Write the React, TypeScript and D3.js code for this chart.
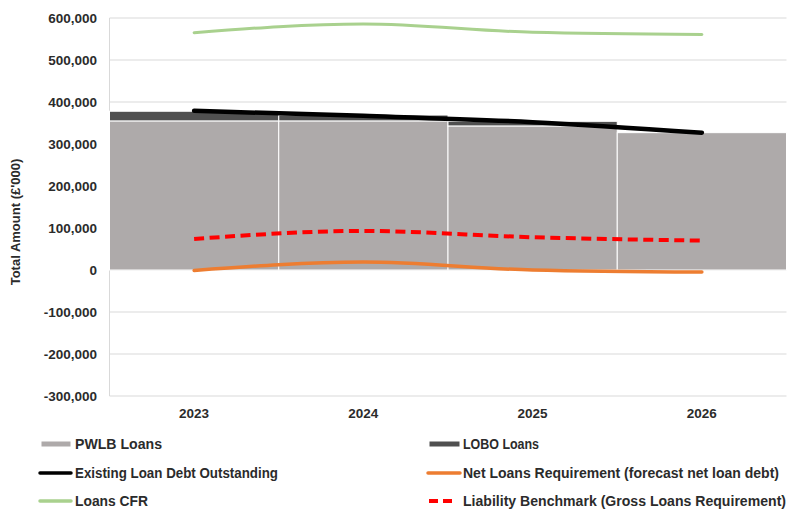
import React from 'react';
import * as d3 from 'd3';

const years = ['2023', '2024', '2025', '2026'];
const pwlbLoans = [355000, 355000, 343000, 327000];
const loboLoans = [23000, 14000, 11000, 0];
const existingDebt = [379000, 367000, 352000, 327000];
const netLoansReq = [-1000, 19000, 0, -5000];
const loansCFR = [565000, 586000, 566000, 561000];
const liabilityBenchmark = [74000, 93000, 78000, 70000];
const yTicks = [-300000, -200000, -100000, 0, 100000, 200000, 300000, 400000, 500000, 600000];

const W = 787;
const H = 512;
const PL = 109.5;
const PR = 786.5;
const PT = 18;
const PB = 396;

const fmt = d3.formatLocale({ decimal: '.', thousands: ',', grouping: [3], currency: ['£', ''], minus: '-' }).format(',');

export default function App() {
  const x = d3.scaleBand<string>().domain(years).range([PL, PR]).padding(0);
  const y = d3.scaleLinear().domain([-300000, 600000]).range([PB, PT]);
  const cx = (i: number) => (x(years[i]) as number) + x.bandwidth() / 2;

  const stackData = years.map((yr, i) => ({ year: yr, pwlb: pwlbLoans[i], lobo: loboLoans[i] }));
  const stack = d3.stack<any>().keys(['pwlb', 'lobo'])(stackData);
  const fills: Record<string, string> = { pwlb: '#aeaaaa', lobo: '#505050' };

  const line = d3
    .line<number>()
    .x((_, i) => cx(i))
    .y((d) => y(d))
    .curve(d3.curveMonotoneX);

  const font = 'Liberation Sans, Arial, Helvetica, sans-serif';
  const narrow = "'Liberation Sans Narrow', 'Arial Narrow', 'Liberation Sans', Arial, sans-serif";
  const textColor = '#2b2b2b';

  const legendLeft = [
    { label: 'PWLB Loans', type: 'bar', color: '#aeaaaa', y: 444, len: 87 },
    { label: 'Existing Loan Debt Outstanding', type: 'line', color: '#000000', y: 473, len: 203 },
    { label: 'Loans CFR', type: 'line', color: '#a9d18e', y: 501, len: 73 },
  ];
  const legendRight = [
    { label: 'LOBO Loans', type: 'bar', color: '#505050', y: 444, len: 76 },
    { label: 'Net Loans Requirement (forecast net loan debt)', type: 'line', color: '#ed7d31', y: 473, len: 316 },
    { label: 'Liability Benchmark (Gross Loans Requirement)', type: 'dash', color: '#ff0000', y: 501, len: 323 },
  ];

  const renderLegend = (items: any[], sx0: number, sx1: number, tx: number) =>
    items.map((it) => (
      <g key={it.label}>
        {it.type === 'bar' && <rect x={sx0 + 1.5} y={it.y - 2.5} width={sx1 - sx0 - 2} height={5} fill={it.color} />}
        {it.type === 'line' && (
          <line x1={sx0} x2={sx1} y1={it.y} y2={it.y} stroke={it.color} strokeWidth={3.5} strokeLinecap="round" />
        )}
        {it.type === 'dash' && (
          <line x1={sx0 + 1} x2={sx1 - 3} y1={it.y} y2={it.y} stroke={it.color} strokeWidth={4} strokeDasharray="9 5" />
        )}
        <text
          x={tx}
          y={it.y + 5}
          fontFamily={narrow}
          fontWeight="bold"
          fontSize={14}
          fill={textColor}
          textLength={it.len}
          lengthAdjust="spacingAndGlyphs"
        >
          {it.label}
        </text>
      </g>
    ));

  return (
    <svg width={W} height={H} style={{ position: 'absolute', left: 0, top: 0, background: '#fff' }}>
      <rect x={0} y={0} width={W} height={H} fill="#ffffff" />
      {yTicks.map((t) => (
        <line key={t} x1={PL} x2={PR} y1={y(t)} y2={y(t)} stroke="#d9d9d9" strokeWidth={1} />
      ))}
      <line x1={PL} x2={PL} y1={PT} y2={PB} stroke="#d9d9d9" strokeWidth={1} />
      {stack.map((series) => (
        <g key={series.key}>
          {series.map((d, i) =>
            d[1] - d[0] > 0 ? (
              <rect
                key={i}
                x={x(years[i])}
                width={x.bandwidth()}
                y={y(d[1])}
                height={y(d[0]) - y(d[1])}
                fill={fills[series.key]}
                stroke="#ffffff"
                strokeWidth={1}
              />
            ) : null
          )}
        </g>
      ))}
      <path d={line(loansCFR) as string} fill="none" stroke="#a9d18e" strokeWidth={3} strokeLinecap="round" />
      <path d={line(existingDebt) as string} fill="none" stroke="#000000" strokeWidth={4.5} strokeLinecap="round" />
      <path d={line(netLoansReq) as string} fill="none" stroke="#ed7d31" strokeWidth={3.5} strokeLinecap="round" />
      <path
        d={line(liabilityBenchmark) as string}
        fill="none"
        stroke="#ff0000"
        strokeWidth={4}
        strokeDasharray="10 5.5"
      />
      {yTicks.map((t) => (
        <text
          key={t}
          x={97}
          y={y(t)}
          dy="0.35em"
          textAnchor="end"
          fontFamily={font}
          fontWeight="bold"
          fontSize={13.5}
          fill={textColor}
        >
          {fmt(t)}
        </text>
      ))}
      {years.map((yr, i) => (
        <text
          key={yr}
          x={cx(i)}
          y={413}
          dy="0.35em"
          textAnchor="middle"
          fontFamily={font}
          fontWeight="bold"
          fontSize={13.5}
          fill={textColor}
        >
          {yr}
        </text>
      ))}
      <text
        transform={`translate(15,222) rotate(-90)`}
        textAnchor="middle"
        dy="0.35em"
        fontFamily={font}
        fontWeight="bold"
        fontSize={13}
        fill={textColor}
      >
        Total Amount (£'000)
      </text>
      {renderLegend(legendLeft, 40, 71, 75)}
      {renderLegend(legendRight, 428, 460, 463)}
    </svg>
  );
}
